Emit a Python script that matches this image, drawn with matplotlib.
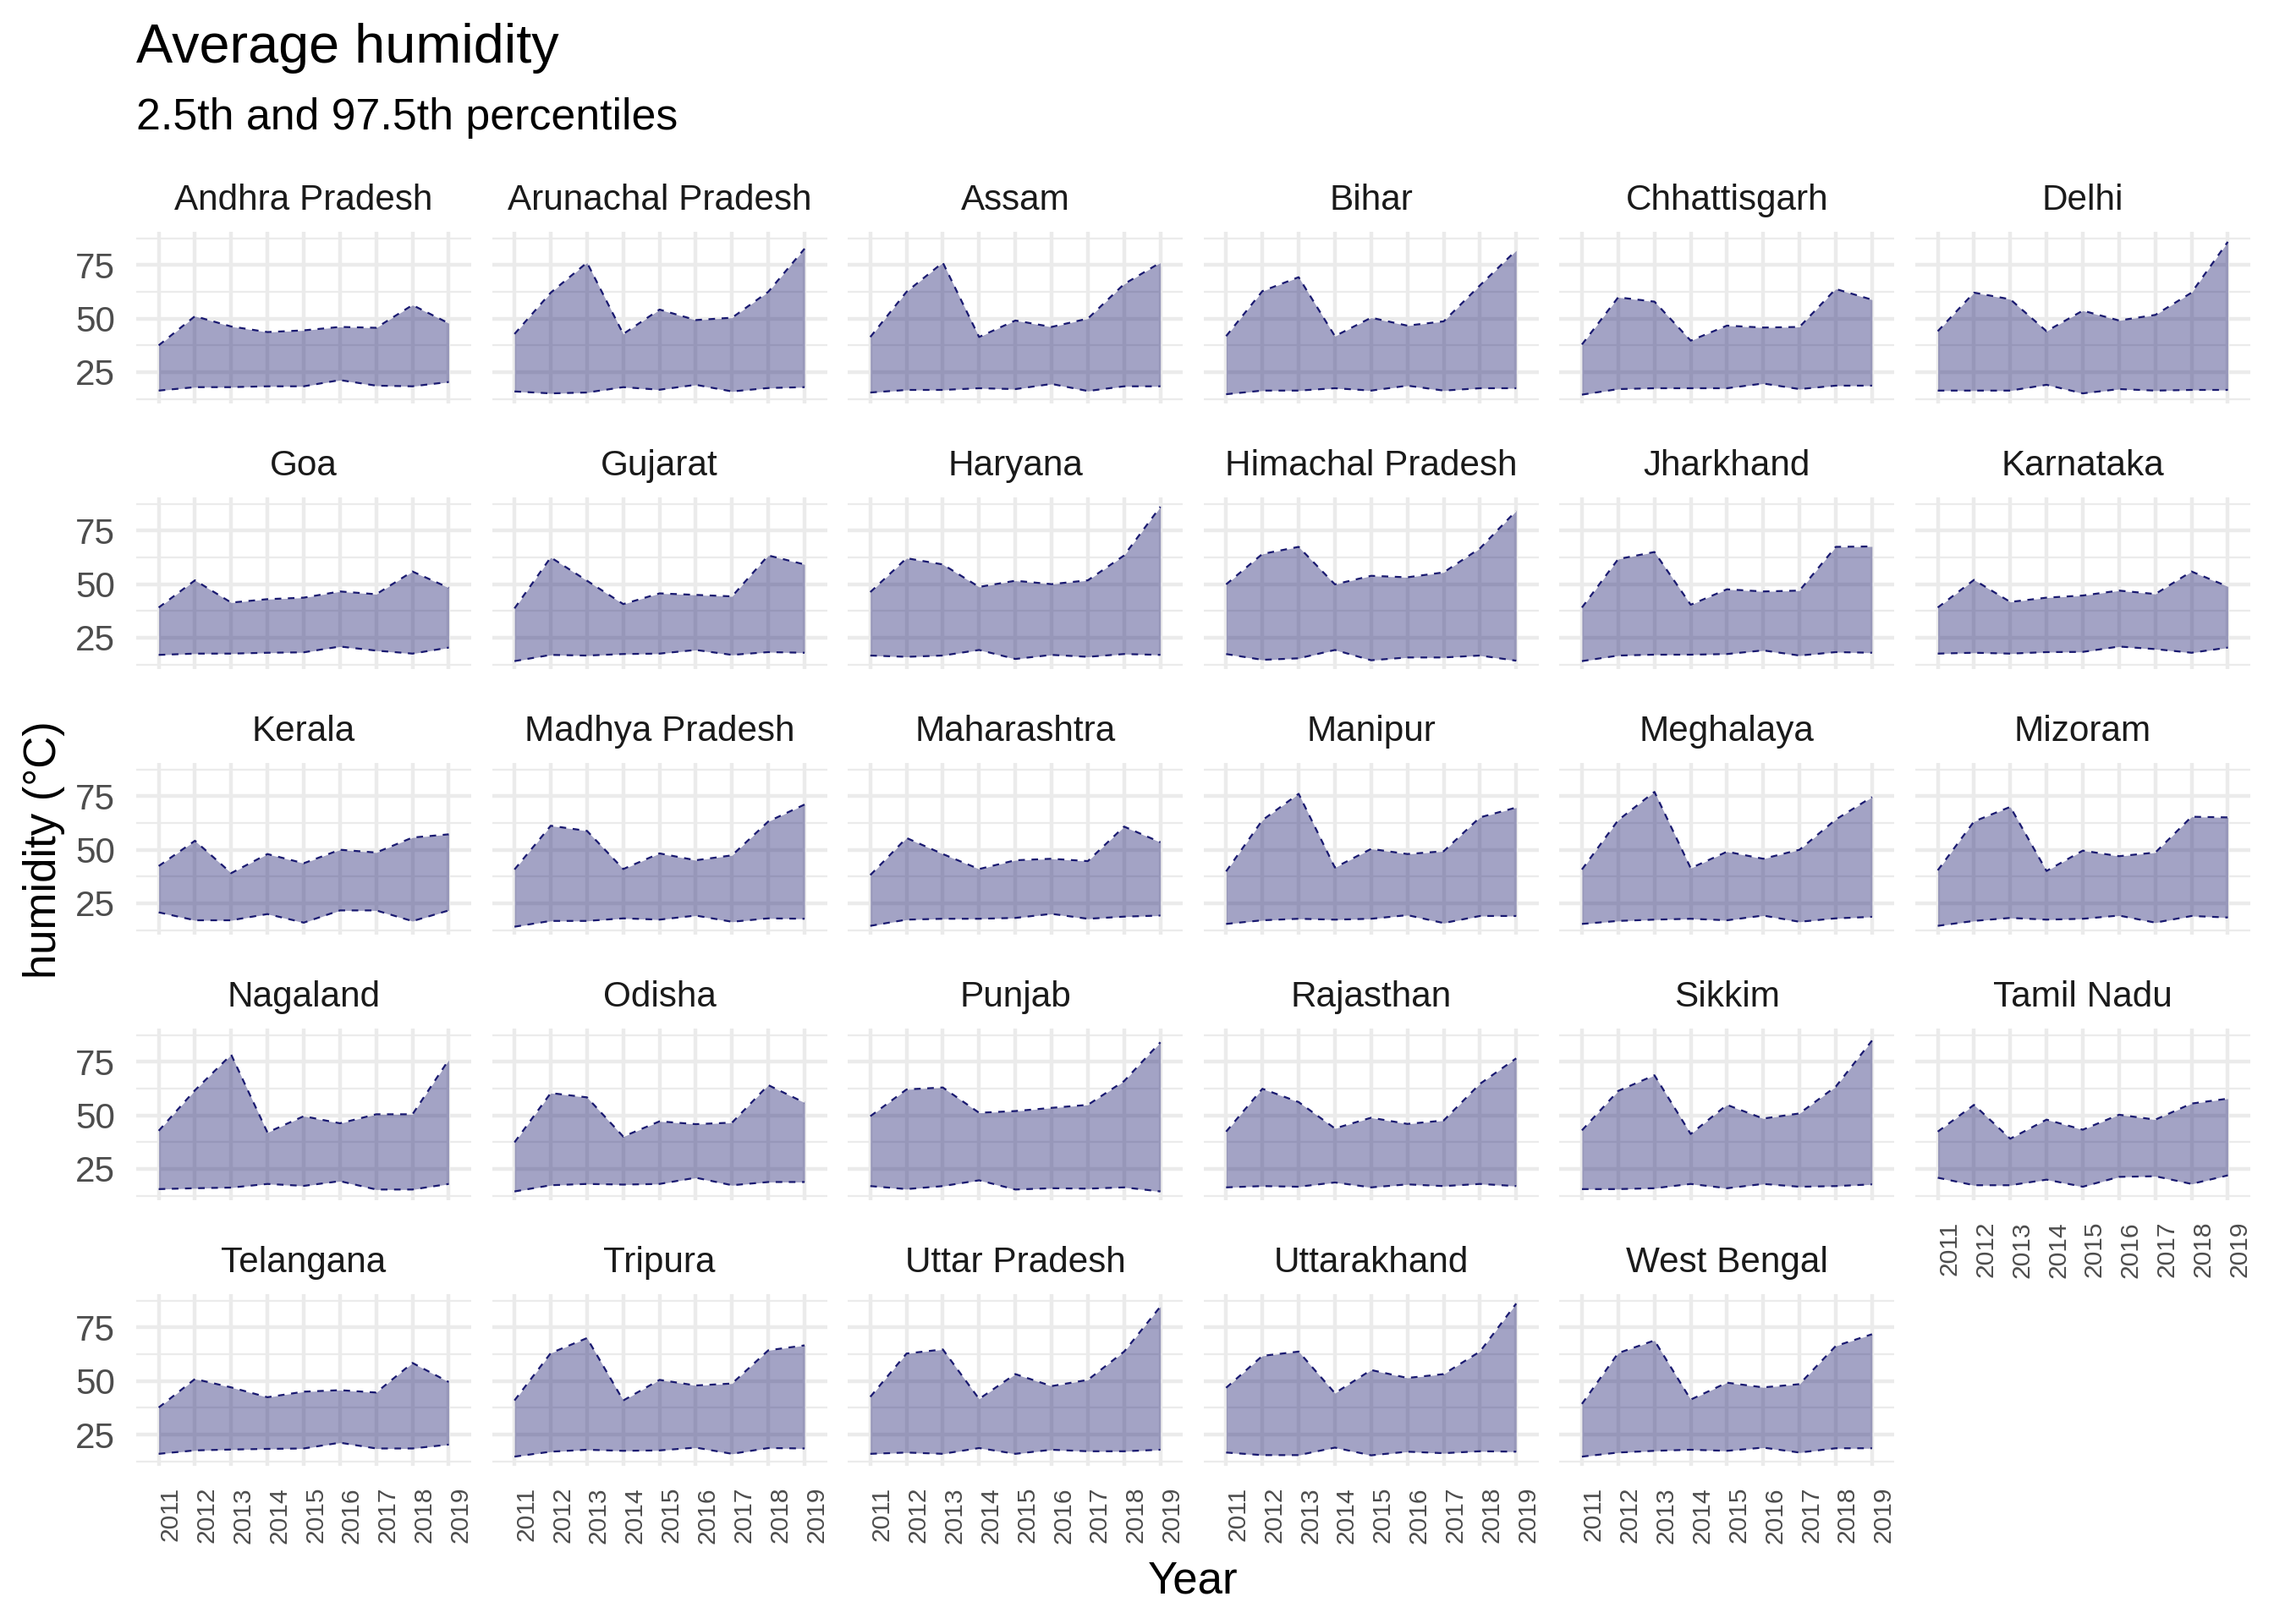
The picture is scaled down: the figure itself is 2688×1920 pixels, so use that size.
import numpy as np
import matplotlib
matplotlib.use("Agg")
import matplotlib.pyplot as plt

plt.rcParams['font.family'] = ['Liberation Sans', 'DejaVu Sans']

# data: 2.5th / 97.5th percentile of humidity per state
years = [2011, 2012, 2013, 2014, 2015, 2016, 2017, 2018, 2019]

states = [
    "Andhra Pradesh", "Arunachal Pradesh", "Assam", "Bihar", "Chhattisgarh", "Delhi",
    "Goa", "Gujarat", "Haryana", "Himachal Pradesh", "Jharkhand", "Karnataka",
    "Kerala", "Madhya Pradesh", "Maharashtra", "Manipur", "Meghalaya", "Mizoram",
    "Nagaland", "Odisha", "Punjab", "Rajasthan", "Sikkim", "Tamil Nadu",
    "Telangana", "Tripura", "Uttar Pradesh", "Uttarakhand", "West Bengal",
]

upper = [
    [37.5, 51.1, 46.3, 43.7, 44.5, 46.1, 45.7, 56.3, 47.8],  # Andhra Pradesh
    [42.8, 62.1, 76.1, 42.8, 54.2, 49.3, 50.4, 62.5, 82.6],  # Arunachal Pradesh
    [41.4, 62.5, 76.1, 41.4, 49.1, 46.1, 50.0, 66.1, 76.1],  # Assam
    [41.8, 62.8, 69.3, 41.8, 50.4, 46.7, 48.7, 65.5, 81.8],  # Bihar
    [37.9, 59.9, 57.9, 39.7, 46.7, 45.8, 46.1, 63.8, 58.8],  # Chhattisgarh
    [44.1, 62.1, 59.0, 44.1, 53.7, 49.1, 51.7, 62.1, 85.8],  # Delhi
    [39.1, 51.8, 41.4, 43.0, 43.7, 46.6, 45.3, 55.9, 48.3],  # Goa
    [38.7, 62.5, 51.6, 40.7, 45.7, 45.0, 44.3, 63.4, 59.2],  # Gujarat
    [46.3, 62.1, 59.2, 48.7, 51.6, 50.0, 51.8, 63.4, 86.1],  # Haryana
    [49.9, 64.1, 67.4, 49.9, 53.9, 53.2, 55.5, 66.7, 84.2],  # Himachal Pradesh
    [39.1, 61.7, 65.0, 40.4, 47.6, 46.6, 47.0, 67.4, 67.6],  # Jharkhand
    [39.1, 52.0, 41.7, 43.7, 44.7, 47.0, 45.4, 55.9, 48.9],  # Karnataka
    [42.4, 54.2, 39.1, 48.0, 43.7, 50.0, 48.7, 55.7, 57.2],  # Kerala
    [40.8, 61.2, 58.8, 41.0, 48.3, 45.1, 47.4, 63.2, 71.1],  # Madhya Pradesh
    [38.2, 55.5, 48.0, 41.0, 45.1, 45.8, 44.7, 60.8, 53.5],  # Maharashtra
    [39.9, 63.8, 76.1, 41.7, 50.4, 48.0, 49.3, 65.1, 69.7],  # Manipur
    [40.8, 63.8, 77.0, 41.4, 49.1, 45.8, 50.0, 64.1, 74.6],  # Meghalaya
    [40.4, 63.2, 70.0, 40.1, 49.6, 47.0, 48.7, 65.4, 65.1],  # Mizoram
    [42.8, 61.7, 78.3, 42.0, 49.6, 46.3, 50.5, 50.5, 75.9],  # Nagaland
    [37.4, 60.4, 58.4, 40.1, 47.2, 45.9, 46.6, 64.1, 55.9],  # Odisha
    [49.6, 62.1, 63.0, 51.2, 52.0, 53.5, 54.9, 66.0, 84.1],  # Punjab
    [42.4, 62.4, 56.2, 43.9, 48.9, 46.0, 47.6, 64.7, 76.6],  # Rajasthan
    [43.0, 61.4, 68.7, 41.3, 54.9, 48.5, 50.9, 63.4, 84.9],  # Sikkim
    [42.4, 54.9, 39.1, 48.0, 43.3, 50.3, 48.0, 55.5, 57.8],  # Tamil Nadu
    [37.6, 50.9, 47.0, 42.4, 45.0, 45.7, 44.6, 58.4, 49.5],  # Telangana
    [40.9, 63.0, 70.0, 40.9, 50.5, 47.9, 48.8, 64.3, 66.6],  # Tripura
    [42.6, 62.8, 64.7, 41.6, 53.2, 47.6, 50.5, 63.7, 84.7],  # Uttar Pradesh
    [46.8, 61.7, 63.7, 44.3, 55.1, 51.4, 53.2, 63.7, 86.1],  # Uttarakhand
    [39.3, 63.0, 68.9, 41.3, 49.2, 47.0, 48.5, 66.3, 71.8],  # West Bengal
]

lower = [
    [16.4, 18.0, 18.0, 18.4, 18.4, 21.3, 18.7, 18.4, 20.4],  # Andhra Pradesh
    [16.0, 15.1, 15.5, 18.0, 16.8, 19.1, 16.0, 17.6, 18.0],  # Arunachal Pradesh
    [15.5, 16.7, 16.7, 17.5, 17.1, 19.5, 16.2, 18.4, 18.4],  # Assam
    [14.7, 16.4, 16.4, 17.5, 16.4, 18.7, 16.4, 17.5, 17.5],  # Bihar
    [14.5, 17.1, 17.5, 17.5, 17.5, 19.7, 17.1, 18.7, 18.7],  # Chhattisgarh
    [16.4, 16.4, 16.4, 19.1, 15.1, 17.1, 16.4, 16.7, 16.7],  # Delhi
    [17.0, 17.6, 17.6, 18.0, 18.2, 20.9, 19.0, 17.6, 20.4],  # Goa
    [14.1, 17.0, 16.7, 17.4, 17.6, 19.3, 17.0, 18.3, 18.0],  # Gujarat
    [16.7, 16.1, 16.7, 19.3, 15.1, 17.0, 16.1, 17.4, 17.0],  # Haryana
    [17.4, 14.7, 15.4, 19.3, 14.5, 15.8, 15.8, 16.7, 14.3],  # Himachal Pradesh
    [14.1, 16.7, 17.1, 17.1, 17.4, 19.1, 16.7, 18.3, 18.0],  # Jharkhand
    [17.6, 18.0, 17.6, 18.3, 18.4, 20.9, 19.7, 18.0, 20.4],  # Karnataka
    [20.8, 17.1, 17.1, 20.0, 16.0, 21.7, 21.7, 16.7, 21.7],  # Kerala
    [14.1, 16.8, 16.8, 18.0, 17.4, 19.3, 16.4, 18.0, 17.8],  # Madhya Pradesh
    [14.5, 17.4, 17.8, 17.8, 18.2, 20.1, 17.8, 18.8, 19.3],  # Maharashtra
    [15.4, 17.1, 17.8, 17.4, 17.8, 19.5, 15.8, 19.1, 19.1],  # Manipur
    [15.4, 16.8, 17.4, 17.8, 17.1, 19.3, 16.4, 18.0, 18.7],  # Meghalaya
    [14.5, 16.8, 18.2, 17.4, 17.8, 19.3, 16.0, 19.1, 18.4],  # Mizoram
    [15.6, 16.0, 16.3, 18.0, 17.1, 19.3, 15.4, 15.4, 18.0],  # Nagaland
    [14.5, 17.4, 18.0, 17.7, 18.0, 20.9, 17.4, 18.9, 18.9],  # Odisha
    [17.0, 15.6, 17.0, 19.7, 15.4, 16.0, 15.8, 16.4, 14.5],  # Punjab
    [16.4, 17.0, 16.7, 18.7, 16.4, 17.8, 17.0, 18.0, 17.0],  # Rajasthan
    [15.6, 15.6, 16.0, 18.0, 16.0, 18.0, 16.7, 17.0, 17.8],  # Sikkim
    [20.9, 17.4, 17.4, 20.0, 16.7, 21.3, 21.6, 18.0, 22.0],  # Tamil Nadu
    [16.0, 17.6, 18.0, 18.3, 18.5, 21.2, 18.5, 18.5, 20.3],  # Telangana
    [14.7, 17.0, 17.9, 17.4, 17.6, 18.9, 16.0, 18.7, 18.5],  # Tripura
    [16.0, 16.6, 16.0, 18.7, 16.0, 17.9, 17.2, 17.2, 17.9],  # Uttar Pradesh
    [16.6, 15.4, 15.4, 18.9, 15.3, 17.0, 16.3, 17.2, 17.0],  # Uttarakhand
    [14.7, 16.6, 17.4, 17.9, 17.4, 18.9, 16.6, 18.6, 18.6],  # West Bengal
]

NROWS, NCOLS = 5, 6
W, H = 2688, 1920
FILL = "#191970"      # midnightblue
GRID = "#EBEBEB"

fig, axes = plt.subplots(NROWS, NCOLS, figsize=(W / 200, H / 200), dpi=200)
fig.subplots_adjust(left=161 / W, right=2660 / W, top=1 - 274 / H, bottom=1 - 1733 / H,
                    wspace=0.062, hspace=0.547)

for i, ax in enumerate(axes.flat):
    if i >= len(states):
        ax.remove()
        continue
    row, col = divmod(i, NCOLS)
    up = np.array(upper[i])
    lo = np.array(lower[i])
    ax.fill_between(years, lo, up, color=FILL, alpha=0.4, lw=0, zorder=2)
    ax.plot(years, up, color=FILL, lw=0.8, ls=(0, (3.5, 3.5)), zorder=3)
    ax.plot(years, lo, color=FILL, lw=0.8, ls=(0, (3.5, 3.5)), zorder=3)

    ax.set_xlim(2010.38, 2019.62)
    ax.set_ylim(10.4, 90.5)
    ax.set_xticks(years)
    ax.set_xticklabels([str(y) for y in years])
    ax.set_yticks([25, 50, 75])
    ax.set_yticks([12.5, 37.5, 62.5, 87.5], minor=True)
    ax.grid(which='major', color=GRID, lw=1.6, zorder=0)
    ax.grid(which='minor', axis='y', color=GRID, lw=0.8, zorder=0)
    ax.set_axisbelow(True)
    for s in ax.spines.values():
        s.set_visible(False)

    # x labels only on the last panel of each column
    show_x = (i + NCOLS >= len(states))
    ax.tick_params(axis='both', which='both', length=0)
    ax.tick_params(axis='x', labelbottom=show_x, labelsize=10.8, labelcolor='#4D4D4D', pad=9)
    ax.tick_params(axis='y', labelleft=(col == 0), labelsize=15.2, labelcolor='#4D4D4D', pad=9)
    if show_x:
        for lab in ax.get_xticklabels():
            lab.set_rotation(90)
            lab.set_ha('left')
            lab.set_va('top')

    ax.set_title(states[i], fontsize=15.2, color='#1A1A1A', pad=9.4)

fig.text(161 / W, 1 - 74 / H, "Average humidity", fontsize=23.3, va='baseline', ha='left')
fig.text(161 / W, 1 - 153 / H, "2.5th and 97.5th percentiles", fontsize=18.7,
         va='baseline', ha='left')
fig.text(1410 / W, 1 - 1870 / H, "Year", fontsize=19, ha='center', va='center')
fig.text(52 / W, 1 - 1005 / H, "humidity (°C)", fontsize=19, rotation=90,
         ha='center', va='center')

fig.savefig("out.png", dpi=200)
